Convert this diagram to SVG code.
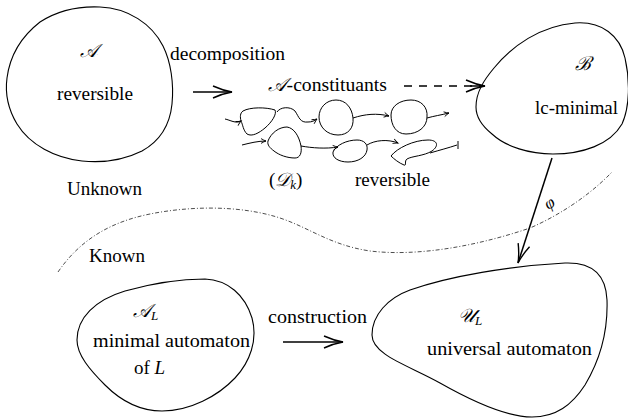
<svg xmlns="http://www.w3.org/2000/svg" width="628" height="419" viewBox="0 0 628 419">
  <style>
    .t { font-family: "Liberation Serif", "Times New Roman", serif; font-size: 19px; fill: #000; }
    .scr { font-style: italic; }
    .sub { font-size: 13px; font-style: italic; }
    .blob { fill: none; stroke: #000; stroke-width: 1.1; }
    .mini { fill: none; stroke: #000; stroke-width: 1; }
    .edge { fill: none; stroke: #000; stroke-width: 1.5; }
  </style>
  <defs>
    <marker id="head" markerUnits="userSpaceOnUse" orient="auto" overflow="visible" markerWidth="1" markerHeight="1" refX="0" refY="0">
      <path d="M-19,-6 Q-9,-1.5 0,0 Q-9,1.5 -19,6" fill="none" stroke="#000" stroke-width="1.4"/>
    </marker>
    <marker id="tip" markerUnits="userSpaceOnUse" orient="auto" overflow="visible" markerWidth="1" markerHeight="1" refX="0" refY="0">
      <path d="M-5,-2.4 Q-2,-0.6 0,0 Q-2,0.6 -5,2.4" fill="none" stroke="#000" stroke-width="0.9"/>
    </marker>
  </defs>

  <!-- boundary between the unknown and known regions -->
  <path d="M58,272 C80,240 110,222 150,214 C190,206 240,205 280,218 C310,228 330,245 370,251 C420,257 480,245 530,228 C560,215 590,195 612,172" fill="none" stroke="#000" stroke-width="0.7" stroke-dasharray="4 2 1 2"/>
  <text class="t" x="67" y="195" textLength="75" lengthAdjust="spacingAndGlyphs">Unknown</text>
  <text class="t" x="89" y="262" textLength="56" lengthAdjust="spacingAndGlyphs">Known</text>

  <g id="node-A">
    <path class="blob" d="M100,7 C128,8 152,24 163,46 C171,62 174,84 172,104 C170,124 160,141 142,151 C124,160 102,163 82,161 C55,158 30,145 17,124 C8,109 5,93 7,78 C10,55 22,36 40,22 C57,11 78,6 100,7 Z"/>
    <text class="t scr" x="80" y="57">𝒜</text>
    <text class="t" x="57" y="100" textLength="76" lengthAdjust="spacingAndGlyphs">reversible</text>
  </g>

  <g id="node-B">
    <path class="blob" d="M476,107 C476,92 484,80 494,68 C512,46 540,26 575,23 C602,21 620,36 625,58 C630,80 630,106 622,124 C610,145 582,154 553,154 C530,154 506,147 492,134 C482,126 476,116 476,107 Z"/>
    <text class="t scr" x="575" y="70">ℬ</text>
    <text class="t" x="535" y="114" textLength="83" lengthAdjust="spacingAndGlyphs">lc-minimal</text>
  </g>

  <g id="node-AL">
    <path class="blob" d="M77,340 C77,318 95,300 125,291 C150,284 180,279 205,279 C228,280 245,295 252,318 C258,340 250,362 235,378 C218,396 190,411 162,411 C140,411 120,400 105,385 C90,370 77,355 77,340 Z"/>
    <text class="t" x="133" y="317"><tspan class="scr">𝒜</tspan><tspan class="sub" dy="3">L</tspan></text>
    <text class="t" x="93" y="347" textLength="157" lengthAdjust="spacingAndGlyphs">minimal automaton</text>
    <text class="t" x="134" y="374">of <tspan class="scr">L</tspan></text>
  </g>

  <g id="node-UL">
    <path class="blob" d="M372,335 C372,315 388,298 410,290 C450,276 510,266 565,263 C592,262 606,275 607,300 C608,330 600,360 585,385 C572,405 556,417 532,417 C505,417 470,400 440,383 C410,366 372,355 372,335 Z"/>
    <text class="t" x="458" y="322"><tspan class="scr">𝒰</tspan><tspan class="sub" dy="3">L</tspan></text>
    <text class="t" x="427" y="355" textLength="165" lengthAdjust="spacingAndGlyphs">universal automaton</text>
  </g>

  <!-- the A-constituants: small reversible pieces chained together -->
  <g id="constituants">
    <text class="t" x="268" y="91" textLength="119" lengthAdjust="spacingAndGlyphs"><tspan class="scr">𝒜</tspan>-constituants</text>
    <!-- first row -->
    <path class="mini" d="M225,119 C230,120 236,124 241,121" marker-end="url(#tip)"/>
    <path class="mini" d="M243,111 C250,107 266,107 275,110 C277,114 272,122 265,128 C259,133 252,137 247,134 C243,130 243,125 241,121 C240,117 240,113 243,111 Z"/>
    <path class="mini" d="M277,112 C280,107 290,106 295,111 C299,117 300,123 308,122 C312,122 314,121 317,119" marker-end="url(#tip)"/>
    <path class="mini" d="M319,117 C319,108 326,100 336,100 C346,100 352,108 353,118 C354,128 348,135 338,135 C327,135 319,127 319,117 Z"/>
    <path class="mini" d="M353,118 C365,114 377,113 389,116" marker-end="url(#tip)"/>
    <path class="mini" d="M391,115 C391,106 400,100 411,100 C421,100 428,107 427,117 C427,127 418,134 406,134 C396,134 391,125 391,115 Z"/>
    <path class="mini" d="M427,118 C434,116 441,115 449,113" marker-end="url(#tip)"/>
    <!-- second row -->
    <path class="mini" d="M242,145 C250,143 258,141 266,141" marker-end="url(#tip)"/>
    <path class="mini" d="M268,141 C271,133 279,127 287,127 C294,128 299,136 301,146 C302,153 300,158 295,158 C287,158 279,155 274,151 C270,148 267,145 268,141 Z"/>
    <path class="mini" d="M301,146 C312,148 326,149 338,147" marker-end="url(#tip)"/>
    <path class="mini" d="M333,152 C336,145 347,140 357,140 C364,140 368,144 367,150 C366,157 358,162 348,162 C339,162 332,158 333,152 Z"/>
    <path class="mini" d="M367,145 C375,140 388,139 398,143" marker-end="url(#tip)"/>
    <path class="mini" d="M391,156 C397,148 414,140 428,140 C438,140 439,146 432,151 C424,156 412,156 407,159 C404,161 407,166 404,165 C399,163 394,159 391,156 Z"/>
    <path class="mini" d="M430,153 C440,150 448,148 457,145 M458,141 L458,149"/>
    <text class="t" x="269" y="186">(<tspan class="scr">𝒟</tspan><tspan class="sub" dy="3">k</tspan><tspan dy="-3">)</tspan></text>
    <text class="t" x="355" y="186" textLength="75" lengthAdjust="spacingAndGlyphs">reversible</text>
  </g>

  <g id="connectors">
    <path class="edge" d="M193,92 L232,92" marker-end="url(#head)"/>
    <text class="t" x="170" y="60" textLength="115" lengthAdjust="spacingAndGlyphs">decomposition</text>
    <path class="edge" d="M404,86 L482,86" stroke-dasharray="8 7"/>
    <path class="edge" d="M470,86 L485,86" marker-end="url(#head)" stroke-width="0.1"/>
    <path class="edge" d="M552,158 L518,263" stroke-width="2" marker-end="url(#head)"/>
    <text class="t scr" transform="translate(548,210) rotate(-30)" style="font-size:17px">φ</text>
    <path class="edge" d="M283,342 L343,342" marker-end="url(#head)"/>
    <text class="t" x="268" y="323" textLength="99" lengthAdjust="spacingAndGlyphs">construction</text>
  </g>
</svg>
